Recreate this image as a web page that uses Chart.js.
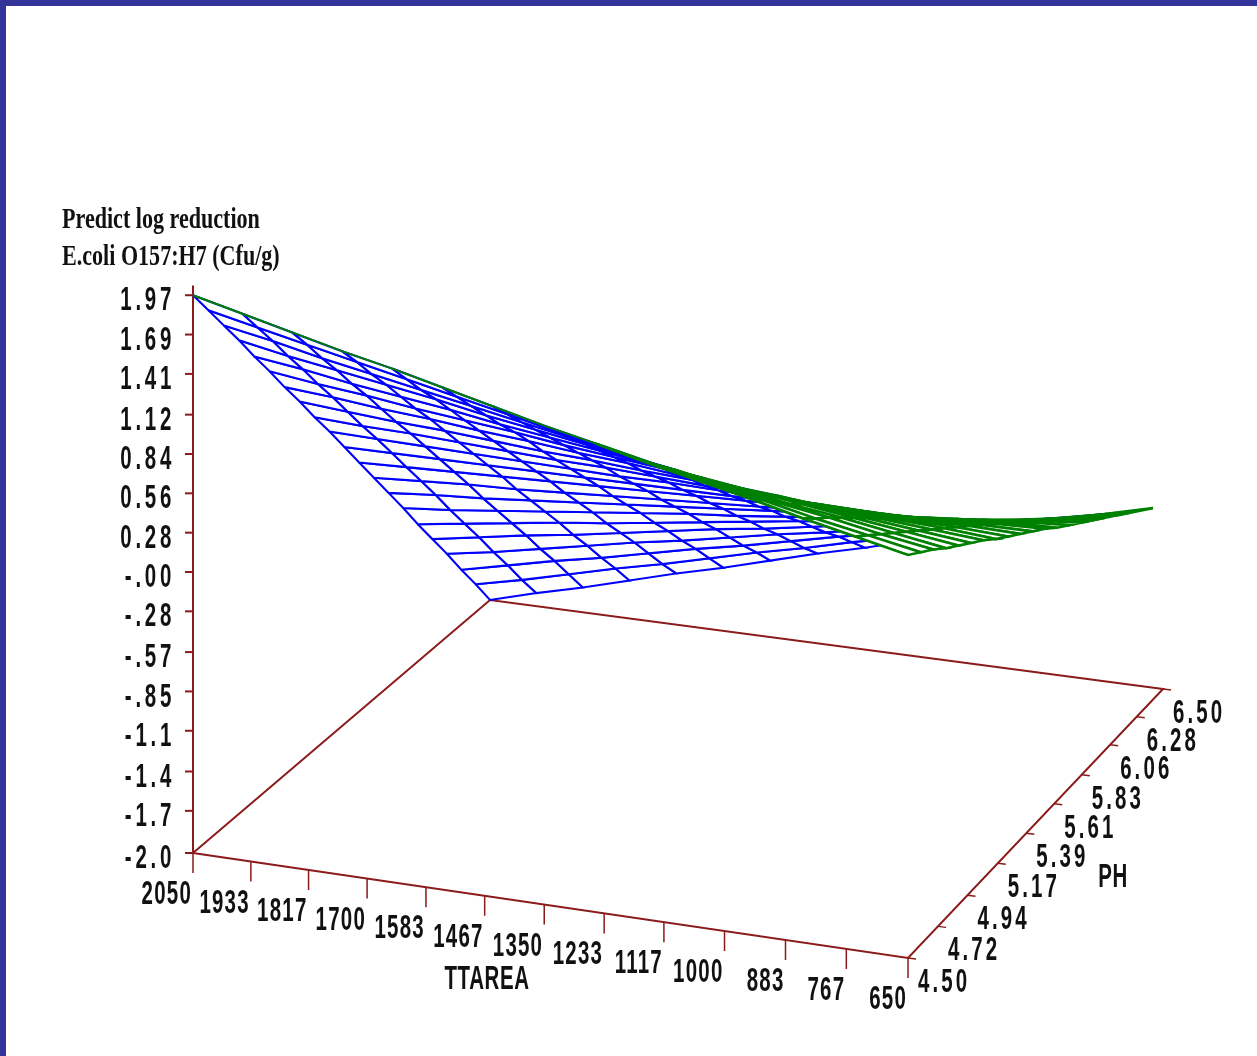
<!DOCTYPE html>
<html>
<head>
<meta charset="utf-8">
<title>Predict log reduction</title>
<script src="https://cdn.jsdelivr.net/npm/chart.js@4/dist/chart.umd.min.js"></script>
<style>
  html, body { margin: 0; padding: 0; background: #333399; overflow: hidden; }
  #wrap { position: absolute; left: 6px; top: 6px; width: 1251px; height: 1050px; background: #fff; }
  canvas { display: block; }
</style>
</head>
<body>
<div id="wrap"><canvas id="surface" width="1251" height="1050"></canvas></div>
<script>
// axis ticks as printed on the plot
const tAreaTicks = [2050, 1933, 1817, 1700, 1583, 1467, 1350, 1233, 1117, 1000, 883, 767, 650];
const phTicks = ["4.50", "4.72", "4.94", "5.17", "5.39", "5.61", "5.83", "6.06", "6.28", "6.50"];
const zTickLabels = ["1.97", "1.69", "1.41", "1.12", "0.84", "0.56", "0.28", "-.00", "-.28", "-.57", "-.85", "-1.1", "-1.4", "-1.7", "-2.0"];
const zTickValues = [1.97, 1.69, 1.41, 1.12, 0.84, 0.56, 0.28, 0, -0.28, -0.57, -0.85, -1.13, -1.42, -1.70, -2.0];

// surface grid
const tAreaGrid = [2050, 1950, 1850, 1750, 1650, 1550, 1450, 1350, 1250, 1150, 1050, 950, 850, 750, 650];
const phGrid = [4.5, 4.6, 4.7, 4.8, 4.9, 5.0, 5.1, 5.2, 5.3, 5.4, 5.5, 5.6, 5.7, 5.8, 5.9, 6.0, 6.1, 6.2, 6.3, 6.4, 6.5];

const z2050 = [1.97, 1.78, 1.59, 1.40, 1.20, 1.01, 0.81, 0.62, 0.42, 0.23, 0.03, -0.17, -0.37, -0.57, -0.77, -0.98, -1.18, -1.38, -1.59, -1.79, -2.00];
const z1950 = [1.88, 1.70, 1.52, 1.33, 1.15, 0.96, 0.78, 0.59, 0.40, 0.22, 0.03, -0.16, -0.35, -0.54, -0.74, -0.93, -1.12, -1.32, -1.51, -1.71, -1.90];
const z1850 = [1.79, 1.62, 1.44, 1.27, 1.09, 0.92, 0.74, 0.56, 0.39, 0.21, 0.03, -0.15, -0.33, -0.52, -0.70, -0.88, -1.06, -1.25, -1.43, -1.62, -1.81];
const z1750 = [1.70, 1.54, 1.37, 1.21, 1.04, 0.87, 0.71, 0.54, 0.37, 0.20, 0.03, -0.14, -0.32, -0.49, -0.66, -0.83, -1.01, -1.18, -1.36, -1.53, -1.71];
const z1650 = [1.62, 1.46, 1.30, 1.15, 0.99, 0.83, 0.67, 0.51, 0.35, 0.19, 0.03, -0.13, -0.30, -0.46, -0.62, -0.79, -0.95, -1.11, -1.28, -1.45, -1.61];
const z1550 = [1.53, 1.38, 1.23, 1.08, 0.93, 0.79, 0.64, 0.48, 0.33, 0.18, 0.03, -0.12, -0.28, -0.43, -0.58, -0.74, -0.89, -1.05, -1.20, -1.36, -1.52];
const z1450 = [1.44, 1.30, 1.16, 1.02, 0.88, 0.74, 0.60, 0.46, 0.32, 0.17, 0.03, -0.11, -0.26, -0.40, -0.54, -0.69, -0.83, -0.98, -1.13, -1.27, -1.42];
const z1350 = [1.35, 1.22, 1.09, 0.96, 0.83, 0.70, 0.57, 0.43, 0.30, 0.17, 0.03, -0.10, -0.24, -0.37, -0.51, -0.64, -0.78, -0.91, -1.05, -1.19, -1.32];
const z1250 = [1.27, 1.15, 1.02, 0.90, 0.78, 0.66, 0.53, 0.41, 0.28, 0.16, 0.03, -0.09, -0.22, -0.34, -0.47, -0.59, -0.72, -0.85, -0.97, -1.10, -1.23];
const z1150 = [1.18, 1.07, 0.96, 0.84, 0.73, 0.61, 0.50, 0.38, 0.27, 0.15, 0.04, -0.08, -0.20, -0.31, -0.43, -0.55, -0.66, -0.78, -0.90, -1.02, -1.13];
const z1050 = [1.10, 0.99, 0.89, 0.78, 0.68, 0.57, 0.47, 0.36, 0.25, 0.15, 0.04, -0.07, -0.18, -0.28, -0.39, -0.50, -0.61, -0.71, -0.82, -0.93, -1.04];
const z950 = [1.02, 0.92, 0.82, 0.72, 0.63, 0.53, 0.43, 0.33, 0.24, 0.14, 0.04, -0.06, -0.16, -0.25, -0.35, -0.45, -0.55, -0.65, -0.75, -0.84, -0.94];
const z850 = [0.93, 0.84, 0.76, 0.67, 0.58, 0.49, 0.40, 0.31, 0.22, 0.13, 0.04, -0.05, -0.13, -0.22, -0.31, -0.40, -0.49, -0.58, -0.67, -0.76, -0.85];
const z750 = [0.85, 0.77, 0.69, 0.61, 0.53, 0.45, 0.37, 0.29, 0.21, 0.13, 0.05, -0.03, -0.11, -0.19, -0.27, -0.35, -0.43, -0.51, -0.59, -0.67, -0.75];
const z650 = [0.77, 0.70, 0.63, 0.55, 0.48, 0.41, 0.34, 0.26, 0.19, 0.12, 0.05, -0.02, -0.10, -0.17, -0.24, -0.31, -0.38, -0.45, -0.52, -0.59, -0.66];
const zRows = [z2050, z1950, z1850, z1750, z1650, z1550, z1450, z1350, z1250, z1150, z1050, z950, z850, z750, z650];

const BLUE = "#0000ff";
const GREEN = "#008000";
const AXIS = "#8b1a1a";
const INK = "#111111";

// Chart.js has no 3D, so the perspective of the floor is done here.
// The result goes on two hidden linear scales.
function project(t, ph, z) {
  const u = (2050 - t) / 1400;
  const v = (ph - 4.5) / 2;
  const w = 1 - 0.0345 * u + 0.0755 * v;
  const fx = (683.7 * u + 334 * v + 193) / w;
  const fy = (71.95 * u - 207.7 * v + 853) / w;
  const h = z + 2;
  return { x: fx - h * v * (2.5 + 5 * u), y: fy - (h * 140.5) / w };
}

function lineSet(points, color, width) {
  return {
    data: points,
    showLine: true,
    borderColor: color,
    borderWidth: width,
    pointRadius: 0,
    fill: false,
  };
}

function area(p) {
  let s = 0;
  for (let k = 0; k < 4; k++) {
    s += p[k].x * p[k + 1].y - p[k + 1].x * p[k].y;
  }
  return s;
}

function meshCells() {
  const cells = [];
  for (let i = 0; i < tAreaGrid.length - 1; i++) {
    for (let j = 0; j < phGrid.length - 1; j++) {
      const a = project(tAreaGrid[i], phGrid[j], zRows[i][j]);
      const b = project(tAreaGrid[i + 1], phGrid[j], zRows[i + 1][j]);
      const c = project(tAreaGrid[i + 1], phGrid[j + 1], zRows[i + 1][j + 1]);
      const d = project(tAreaGrid[i], phGrid[j + 1], zRows[i][j + 1]);
      const pts = [a, b, c, d, a];
      const green = area(pts) < 0;
      cells.push({
        depth: i / 14 - j / 20,
        set: {
          data: pts,
          showLine: true,
          // the floor winds one way, the sheet seen from below winds the other
          borderColor: green ? GREEN : BLUE,
          borderWidth: green ? 2.6 : 2.1,
          backgroundColor: "#ffffff",
          pointRadius: 0,
          fill: "shape",
        },
      });
    }
  }
  // first dataset is painted last, so nearest cells go first
  cells.sort((p, q) => q.depth - p.depth);
  return cells.map((c) => c.set);
}

function axisSets() {
  const sets = [];
  const p00 = project(2050, 4.5, -2);
  const p10 = project(650, 4.5, -2);
  const p11 = project(650, 6.5, -2);
  const p01 = project(2050, 6.5, -2);
  sets.push(lineSet([p00, p10, p11, p01, p00], AXIS, 2));
  sets.push(lineSet([project(2050, 4.5, 2.04), p00], AXIS, 2));
  zTickValues.forEach((z) => {
    const p = project(2050, 4.5, z);
    sets.push(lineSet([{ x: p.x - 8, y: p.y }, p], AXIS, 2));
  });
  tAreaTicks.forEach((t) => {
    const p = project(t, 4.5, -2);
    sets.push(lineSet([p, { x: p.x, y: p.y + 20 }], AXIS, 1.5));
  });
  phTicks.forEach((ph) => {
    const p = project(650, Number(ph), -2);
    sets.push(lineSet([p, { x: p.x + 8, y: p.y + 1 }], AXIS, 1.5));
  });
  return sets;
}

// narrow tall lettering of the old plot device
function stretched(ctx, text, x, y, font, sx, align, gap) {
  ctx.save();
  ctx.translate(x, y);
  ctx.scale(sx, 1);
  ctx.font = font;
  ctx.letterSpacing = gap + "px";
  ctx.textAlign = align;
  ctx.textBaseline = "middle";
  ctx.fillStyle = INK;
  ctx.fillText(text, 0, 0);
  ctx.restore();
}

const labelPlugin = {
  id: "plotLabels",
  afterDraw(chart) {
    const ctx = chart.ctx;
    const sx = chart.scales.x;
    const sy = chart.scales.y;
    const num = 'bold 33px "Liberation Sans"';
    const put = (text, p, dx, dy, align, gap) =>
      stretched(ctx, text, sx.getPixelForValue(p.x) + dx, sy.getPixelForValue(p.y) + dy, num, 0.62, align, gap);

    zTickLabels.forEach((text, k) => {
      put(text, project(2050, 4.5, zTickValues[k]), -18, 6, "right", 6);
    });
    tAreaTicks.forEach((t) => {
      put(String(t), project(t, 4.5, -2), -1, 42, "right", 2);
    });
    phTicks.forEach((ph) => {
      put(ph, project(650, Number(ph), -2), 10, 25, "left", 5);
    });
    put("TTAREA", { x: 487, y: 978 }, 0, 2, "center", 1);
    put("PH", { x: 1113, y: 876 }, 0, 2, "center", 1);

    const serif = 'bold 30px "Liberation Serif"';
    stretched(ctx, "Predict log reduction", sx.getPixelForValue(62), sy.getPixelForValue(220), serif, 0.736, "left", 0);
    stretched(ctx, "E.coli O157:H7 (Cfu/g)", sx.getPixelForValue(62), sy.getPixelForValue(257), serif, 0.736, "left", 0);
  },
};

const edgeFront = tAreaGrid.map((t, i) => project(t, 4.5, zRows[i][0]));

new Chart(document.getElementById("surface"), {
  type: "scatter",
  data: {
    datasets: [lineSet(edgeFront, GREEN, 2)].concat(meshCells(), axisSets()),
  },
  options: {
    responsive: false,
    animation: false,
    layout: { padding: 0 },
    plugins: { legend: { display: false }, tooltip: { enabled: false }, title: { display: false } },
    scales: {
      x: { type: "linear", display: false, min: 6, max: 1257 },
      y: { type: "linear", display: false, min: 6, max: 1056, reverse: true },
    },
  },
  plugins: [labelPlugin],
});
</script>
</body>
</html>
